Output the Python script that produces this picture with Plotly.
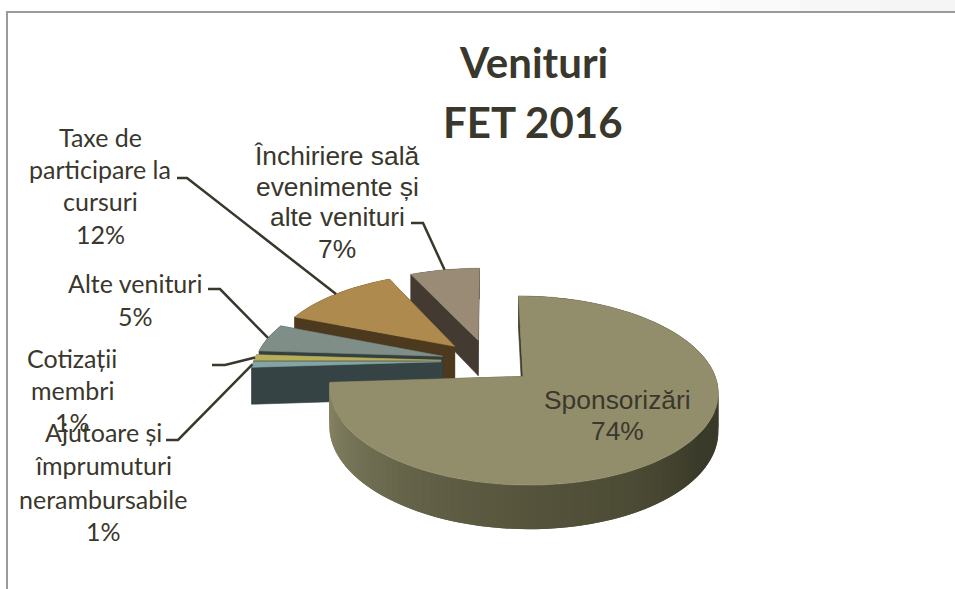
import math
import plotly.graph_objects as go

# --- data ---
categories = ["Sponsorizări", "Ajutoare și împrumuturi nerambursabile", "Cotizații membri",
              "Alte venituri", "Taxe de participare la cursuri", "Închiriere sală evenimente și alte venituri"]
values = [74, 1, 1, 5, 12, 7]
top_colors = ["#928E6B", "#84A5A6", "#B7AE5B", "#7F8F88", "#AF8A4E", "#998B76"]
wall_colors = ["#3C3B2A", "#354345", "#5A5530", "#33403F", "#4D3A1E", "#433A31"]
title_lines = ["Venituri", "FET 2016"]

# --- projection style ---
W, H = 955, 589
CX, CY, RX, RY = 488, 361, 187.5, 88
PERSP, EXPL, DEPTH = 0.145, 0.25, 36.6
FRONT_STOPS = [(90, "#3B3B2B"), (125, "#3A3A2A"), (150, "#4B4A34"), (180, "#55533B"),
               (215, "#66644A"), (240, "#787659"), (266.4, "#8C8866")]
INK = "#3A372C"


def hex_rgb(c):
    return [int(c[i:i + 2], 16) for i in (1, 3, 5)]


def grad(t):
    for (a, ca), (b, cb) in zip(FRONT_STOPS, FRONT_STOPS[1:]):
        if a <= t <= b:
            f = (t - a) / (b - a)
            r = [round(x + (y - x) * f) for x, y in zip(hex_rgb(ca), hex_rgb(cb))]
            return "rgb(%d,%d,%d)" % tuple(r)
    return FRONT_STOPS[0][1]


def project(u, v, z=0.0):
    s = 1 / (1 + PERSP * v)
    return CX + RX * u * s, CY - RY * v * s + DEPTH * z * s


def slice_point(t, mid, r=1.0, z=0.0):
    u = EXPL * math.sin(math.radians(mid)) + r * math.sin(math.radians(t))
    v = EXPL * math.cos(math.radians(mid)) + r * math.cos(math.radians(t))
    return project(u, v, z)


fig = go.Figure()


def poly(pts, color, edge=0.6):
    fig.add_trace(go.Scatter(x=[p[0] for p in pts] + [pts[0][0]], y=[p[1] for p in pts] + [pts[0][1]],
                             mode="lines", fill="toself", fillcolor=color,
                             line=dict(color=color, width=edge), hoverinfo="skip", showlegend=False))


# angular spans, clockwise from the top
spans = []
acc = 0.0
for val in values:
    a = acc * 3.6
    acc += val
    spans.append((a, acc * 3.6))


def draw_slice(i):
    a, b = spans[i]
    mid = (a + b) / 2
    n = max(2, int((b - a) / 2))
    ts = [a + (b - a) * k / n for k in range(n + 1)]
    step = ts[1] - ts[0]
    # radial walls
    for t in (a, b):
        poly([slice_point(t, mid, 0, 0), slice_point(t, mid, 1, 0),
              slice_point(t, mid, 1, 1), slice_point(t, mid, 0, 1)], wall_colors[i])
    # outer wall: each quad runs under the next, so no seams show
    for t0, t1 in zip(ts, ts[1:]):
        col = grad((t0 + t1) / 2) if i == 0 else wall_colors[i]
        t2 = min(b, t1 + step)
        poly([slice_point(t0, mid, 1, 0), slice_point(t2, mid, 1, 0),
              slice_point(t2, mid, 1, 1), slice_point(t0, mid, 1, 1)], col, 0)
    # top face
    poly([slice_point(0, mid, 0)] + [slice_point(t, mid) for t in ts], top_colors[i])


# back to front
for i in [5, 4, 3, 2, 1, 0]:
    draw_slice(i)

# leader lines: elbow start, elbow bend, then the slice's rim
leaders = [(4, (177, 178), (187, 178)), (5, (411, 223), (423, 223)), (3, (208, 289), (220, 289)),
           (2, (212, 365), (225, 365)), (1, (166, 440), (178, 440))]
for i, p0, p1 in leaders:
    mid = sum(spans[i]) / 2
    e = slice_point(mid, mid)
    fig.add_trace(go.Scatter(x=[p0[0], p1[0], e[0]], y=[p0[1], p1[1], e[1]], mode="lines",
                             line=dict(color=INK, width=2.5), hoverinfo="skip", showlegend=False))

# faint grey band above the frame, then the frame
band_steps = [(640, 720, "#FDFDFD"), (720, 800, "#FAFAFA"), (800, 880, "#F7F7F7"), (880, 955, "#F5F5F5")]
shapes = [dict(type="rect", xref="x", yref="y", x0=x0, x1=x1, y0=0, y1=11, layer="below",
               fillcolor=c, line=dict(width=0)) for x0, x1, c in band_steps]
shapes += [dict(type="line", xref="x", yref="y", x0=7, x1=7, y0=12, y1=589, line=dict(color="#9A9A9A", width=2)),
           dict(type="line", xref="x", yref="y", x0=6, x1=955, y0=12, y1=12, line=dict(color="#9A9A9A", width=2))]


annos = []


def label(lines, cx, ys, family, size, bold=False):
    for txt, y in zip(lines, ys):
        annos.append(dict(x=cx, y=y, xref="x", yref="y", text="<b>%s</b>" % txt if bold else txt, showarrow=False,
                          xanchor="center", yanchor="middle",
                          font=dict(family=family, size=size, color=INK)))


label(title_lines, 533, [62, 122], "Lato", 42, True)
label(["Taxe de", "participare la", "cursuri", "12%"], 100, [137, 169, 201, 234], "Lato", 25)
label(["Alte venituri", "5%"], 135, [283, 316], "Lato", 25)
label(["Cotizații", "membri", "1%"], 72, [358, 390, 422], "Lato", 25)
label(["Ajutoare și", "împrumuturi", "nerambursabile", "1%"], 103, [432, 465, 499, 531], "Lato", 25)
label(["Închiriere sală", "evenimente și", "alte venituri", "7%"], 337, [156, 187, 217, 249], "Liberation Sans", 26.4)
label(["Sponsorizări", "74%"], 617, [400, 431], "Liberation Sans", 26.4)

fig.update_layout(width=W, height=H, margin=dict(l=0, r=0, t=0, b=0), paper_bgcolor="white",
                  plot_bgcolor="white", showlegend=False, shapes=shapes, annotations=annos,
                  xaxis=dict(range=[0, W], visible=False, fixedrange=True),
                  yaxis=dict(range=[H, 0], visible=False, fixedrange=True))
fig.write_html("out.html", config={"displayModeBar": False},
               post_script="document.body.style.margin='0';document.body.style.overflow='hidden';")
